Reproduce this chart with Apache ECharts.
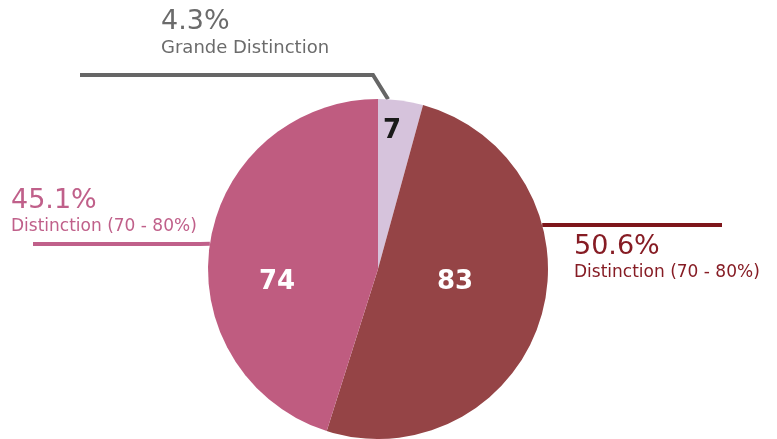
<!DOCTYPE html>
<html>
<head>
<meta charset="utf-8">
<script src="https://cdn.jsdelivr.net/npm/echarts@6/dist/echarts.min.js"></script>
<style>
  html, body { margin: 0; padding: 0; background: #fff; }
  #chart { width: 777px; height: 439px; }
</style>
</head>
<body>
<div id="chart"></div>
<script>
// chart values
const categories = ['Grande Distinction', 'Distinction (70 - 80%)', 'Distinction (70 - 80%)'];
const counts = [7, 83, 74];
const sliceColors = ['#d6c3dc', '#954446', '#bf5c80'];
const lineColors = ['#666666', '#7e161b', '#c0608a'];
const textColors = ['#6b6b6b', '#861c24', '#c0608a'];
const valueColors = ['#1a1a1a', '#ffffff', '#ffffff'];

const center = [378, 269];
const radius = 170;
const total = counts.reduce((a, b) => a + b, 0);
const font = 'DejaVu Sans';

// where each outer label sits and how its leader line bends
const outerLabels = [
  { x: 161, y: 7, nameSize: 18, attach: 86.6, bend: [[373, 75], [80, 75]] },
  { x: 574, y: 232, nameSize: 17, attach: 15, bend: [[722, 225]] },
  { x: 11, y: 186, nameSize: 17, attach: 171.5, bend: [[200, 244], [33, 244]] }
];
// inner value label positions
const innerLabels = [[392, 131], [455, 282], [277, 282]];

function edgePoint(deg) {
  const a = deg * Math.PI / 180;
  return [center[0] + radius * Math.cos(a), center[1] - radius * Math.sin(a)];
}

const chart = echarts.init(document.getElementById('chart'));

const baseData = counts.map((v, i) => ({
  name: categories[i],
  value: v
}));

chart.setOption({
  animation: false,
  series: [
    {
      type: 'pie',
      center: center,
      radius: radius,
      startAngle: 90,
      silent: true,
      data: baseData.map((d, i) => ({
        ...d,
        itemStyle: { color: sliceColors[i] },
        labelLine: { lineStyle: { color: lineColors[i], width: 4 } },
        label: {
          rich: {
            p: { fontSize: 27, color: textColors[i], fontFamily: font, lineHeight: 30 },
            n: { fontSize: outerLabels[i].nameSize, color: textColors[i], fontFamily: font, lineHeight: 22 }
          }
        }
      })),
      label: {
        show: true,
        position: 'outside',
        overflow: 'none',
        formatter: p => '{p|' + (p.value / total * 100).toFixed(1) + '%}\n{n|' + p.name + '}'
      },
      labelLine: { show: true, smooth: false },
      labelLayout: function (params) {
        const o = outerLabels[params.dataIndex];
        return {
          x: o.x,
          y: o.y,
          align: 'left',
          verticalAlign: 'top',
          labelLinePoints: [edgePoint(o.attach)].concat(o.bend)
        };
      }
    },
    {
      type: 'pie',
      center: center,
      radius: radius,
      startAngle: 90,
      silent: true,
      itemStyle: { color: 'rgba(0,0,0,0)' },
      data: baseData.map((d, i) => ({
        ...d,
        label: { color: valueColors[i] }
      })),
      label: {
        show: true,
        position: 'inside',
        formatter: '{c}',
        fontFamily: font,
        fontWeight: 'bold',
        fontSize: 26
      },
      labelLine: { show: false },
      labelLayout: function (params) {
        const p = innerLabels[params.dataIndex];
        return { x: p[0], y: p[1], align: 'center', verticalAlign: 'middle' };
      }
    }
  ]
});
</script>
</body>
</html>
